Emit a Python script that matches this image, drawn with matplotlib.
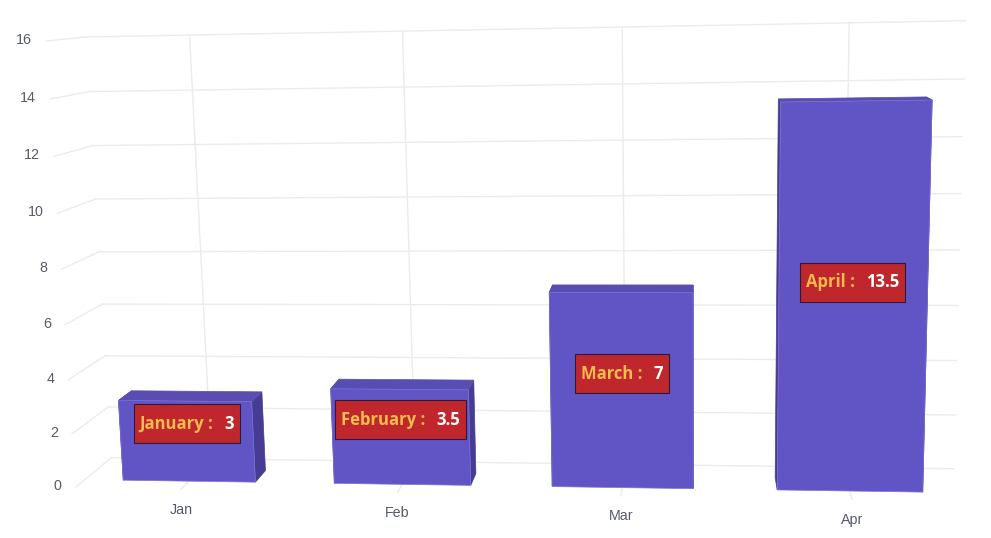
import numpy as np
import matplotlib
matplotlib.use('Agg')
import matplotlib.pyplot as plt
from matplotlib.patches import Polygon, Rectangle

plt.rcParams['font.family'] = ['Liberation Sans', 'DejaVu Sans']

categories = ['Jan', 'Feb', 'Mar', 'Apr']
months = ['January', 'February', 'March', 'April']
values = [3, 3.5, 7, 13.5]
value_labels = ['3', '3.5', '7', '13.5']
y_ticks = [0, 2, 4, 6, 8, 10, 12, 14, 16]

# scene box (category, value, depth) -> where its corners land on the image
box = [(0, 0, 0), (4, 0, 0), (4, 16, 0), (0, 16, 0),
       (0, 0, 1), (4, 0, 1), (4, 16, 1), (0, 16, 1)]
box_px = [(75, 488), (971, 501), (984, 23.5), (47, 41),
          (112, 457), (953, 469), (966, 21), (85, 37)]

FRONT = '#6155c5'
TOP = '#5a4db2'
SIDE = '#463c94'
GRID = '#ebebeb'
LABEL = '#555b66'


def fit_camera(scene, pixels):
    rows = []
    for (x, y, z), (u, v) in zip(scene, pixels):
        rows.append([x, y, z, 1, 0, 0, 0, 0, -u * x, -u * y, -u * z, -u])
        rows.append([0, 0, 0, 0, x, y, z, 1, -v * x, -v * y, -v * z, -v])
    _, _, vt = np.linalg.svd(np.array(rows, dtype=float))
    return vt[-1].reshape(3, 4)


camera = fit_camera(box, box_px)


def project(x, y, z):
    p = camera @ np.array([x, y, z, 1.0])
    return p[0] / p[2], p[1] / p[2]


fig = plt.figure(figsize=(9.91, 5.38), dpi=100)
ax = fig.add_axes([0, 0, 1, 1])
ax.set_xlim(0, 991)
ax.set_ylim(538, 0)
ax.axis('off')


def line(a, b):
    ax.plot(*zip(project(*a), project(*b)), color=GRID, lw=1.0, zorder=1)


for t in y_ticks:
    line((0, t, 0), (0, t, 1))
    line((0, t, 1), (4, t, 1))
    u, v = project(0, t, 0)
    ax.text(u - 14, v - 1, str(t), ha='right', va='center', fontsize=10.3, color=LABEL)

for i, c in enumerate(categories):
    line((i + 0.5, 0, 0), (i + 0.5, 0, 1))
    line((i + 0.5, 0, 1), (i + 0.5, 16, 1))
    u, v = project(i + 0.5, 0, 0)
    ax.text(u, v + 20.5, c, ha='center', va='center', fontsize=10.3, color=LABEL)

# bars
half = 0.315
z0, z1 = 0.25, 0.63
renderer = fig.canvas.get_renderer()

for i, val in enumerate(values):
    x0, x1 = i + 0.5 - half, i + 0.5 + half

    def face(corners, color, edge=None):
        pts = [project(*c) for c in corners]
        ax.add_patch(Polygon(pts, closed=True, facecolor=color,
                             edgecolor=edge or color, lw=0.5, zorder=3))

    face([(x0, 0, z0), (x0, val, z0), (x0, val, z1), (x0, 0, z1)], SIDE)
    face([(x1, 0, z0), (x1, val, z0), (x1, val, z1), (x1, 0, z1)], SIDE)
    face([(x0, val, z0), (x1, val, z0), (x1, val, z1), (x0, val, z1)], TOP)
    face([(x0, 0, z0), (x1, 0, z0), (x1, val, z0), (x0, val, z0)], FRONT, '#7d74d2')

    # label box: month in orange, value in white
    u, v = project(i + 0.5, val / 2, z0)
    v -= 17.5
    key = ax.text(0, v, months[i] + ' :', fontsize=12, fontweight='bold',
                  family='Open Sans', color='#f6bb4d', va='center', ha='left', zorder=6)
    num = ax.text(0, v, value_labels[i], fontsize=12, fontweight='bold',
                  family='Open Sans', color='white', va='center', ha='left', zorder=6)
    w_key = key.get_window_extent(renderer).width
    w_num = num.get_window_extent(renderer).width
    gap, pad = 11, 6
    w = w_key + gap + w_num + 2 * pad
    left = u - w / 2
    key.set_x(left + pad)
    num.set_x(left + pad + w_key + gap)
    ax.add_patch(Rectangle((left, v - 19.5), w, 39, facecolor='#c0272d',
                           edgecolor='#2a1b3d', lw=0.8, zorder=5))

fig.savefig('out.png', dpi=100)
